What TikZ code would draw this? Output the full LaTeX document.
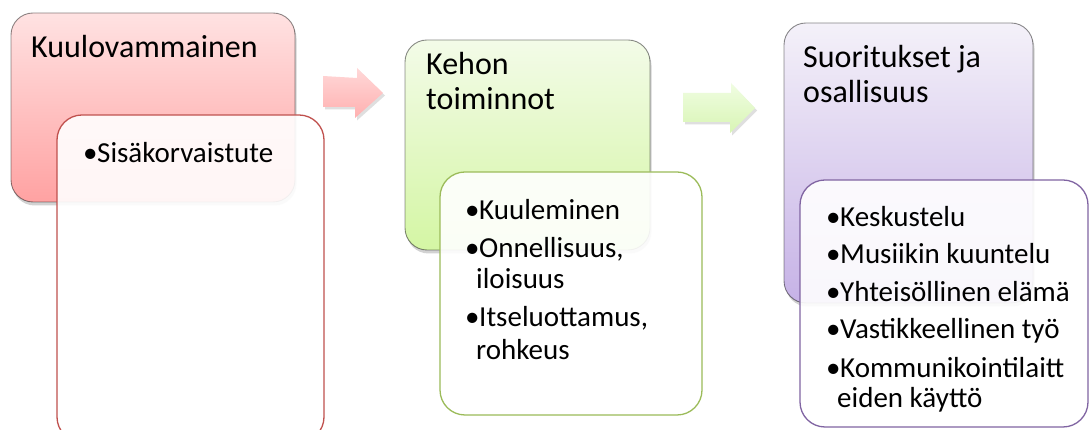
\documentclass[tikz,border=0pt]{standalone}
\usepackage{fontspec}
\setmainfont{Carlito}
\usetikzlibrary{shadows}
\definecolor{redline}{HTML}{C0504D}
\definecolor{greenline}{HTML}{9BBB59}
\definecolor{purpleline}{HTML}{8064A2}
\newcommand\bul{\llap{\rlap{\char"2022}\hspace{14pt}}}
\tikzset{
  topbox/.style={rounded corners=22pt, draw=black, draw opacity=0.45, line width=0.9pt,
    drop shadow={shadow xshift=1.5pt, shadow yshift=-3.5pt, opacity=0.35}},
  subbox/.style={rounded corners=25pt, draw=#1, line width=1.3pt, fill=white, fill opacity=0.9},
  ttl/.style={anchor=base west, inner sep=0pt, font=\fontsize{32}{34}\selectfont},
  txt/.style={anchor=base west, inner sep=0pt, font=\fontsize{29}{31}\selectfont},
  blockarrow/.style={draw=none, drop shadow={shadow xshift=2pt, shadow yshift=-2.5pt, opacity=0.25}},
}
\begin{document}
\begin{tikzpicture}[x=1pt,y=1pt]
\useasboundingbox (0,0) rectangle (1090,430);
\clip (0,0) rectangle (1090,430);
\fill[white] (0,0) rectangle (1090,430);
% group 1
\path[topbox, top color={rgb,255:red,255;green,226;blue,226}, bottom color={rgb,255:red,255;green,162;blue,162}]
  (11,417) rectangle (295,228);
\node[ttl] (t1) at (31,372) {Kuulovammainen};
\path[subbox=redline] (57,315) rectangle (324,-12);
\node[txt] (b11) at (97,267) {\bul Sisäkorvaistute};
% arrow 1
\path[blockarrow, top color={rgb,255:red,255;green,216;blue,216}, bottom color={rgb,255:red,255;green,176;blue,176}]
  (323,354) -- (357,352) -- (357,362) -- (383,337) -- (355,312) -- (355,323) -- (323,323) -- cycle;
% group 2
\path[topbox, top color={rgb,255:red,243;green,251;blue,232}, bottom color={rgb,255:red,212;green,246;blue,164}]
  (405,390) rectangle (650,180);
\node[ttl] (t2a) at (426,355) {Kehon};
\node[ttl] (t2b) at (426,320) {toiminnot};
\path[subbox=greenline] (440,258) rectangle (702,15);
\node[txt] (b21) at (479,210) {\bul Kuuleminen};
\node[txt] (b22) at (479,172) {\bul Onnellisuus,};
\node[txt] (b22b) at (476,141) {iloisuus};
\node[txt] (b23) at (479,103) {\bul Itseluottamus,};
\node[txt] (b23b) at (476,70) {rohkeus};
% arrow 2
\path[blockarrow, top color={rgb,255:red,240;green,253;blue,226}, bottom color={rgb,255:red,216;green,245;blue,180}]
  (683,337) -- (731,337) -- (731,347) -- (755,322) -- (730,297) -- (730,308) -- (683,308) -- cycle;
% group 3
\path[topbox, top color={rgb,255:red,244;green,241;blue,249}, bottom color={rgb,255:red,198;green,178;blue,230}]
  (784,407) rectangle (1033,127);
\node[ttl] (t3a) at (803,362) {Suoritukset ja};
\node[ttl] (t3b) at (803,327) {osallisuus};
\path[subbox=purpleline] (800,250) rectangle (1088,3);
\node[txt] (b31) at (840,203) {\bul Keskustelu};
\node[txt] (b32) at (840,166) {\bul Musiikin kuuntelu};
\node[txt] (b33) at (840,128) {\bul Yhteisöllinen elämä};
\node[txt] (b34) at (840,91) {\bul Vastikkeellinen työ};
\node[txt] (b35) at (840,52) {\bul Kommunikointilaitt};
\node[txt] (b35b) at (837,22) {eiden käyttö};
\end{tikzpicture}
\end{document}
